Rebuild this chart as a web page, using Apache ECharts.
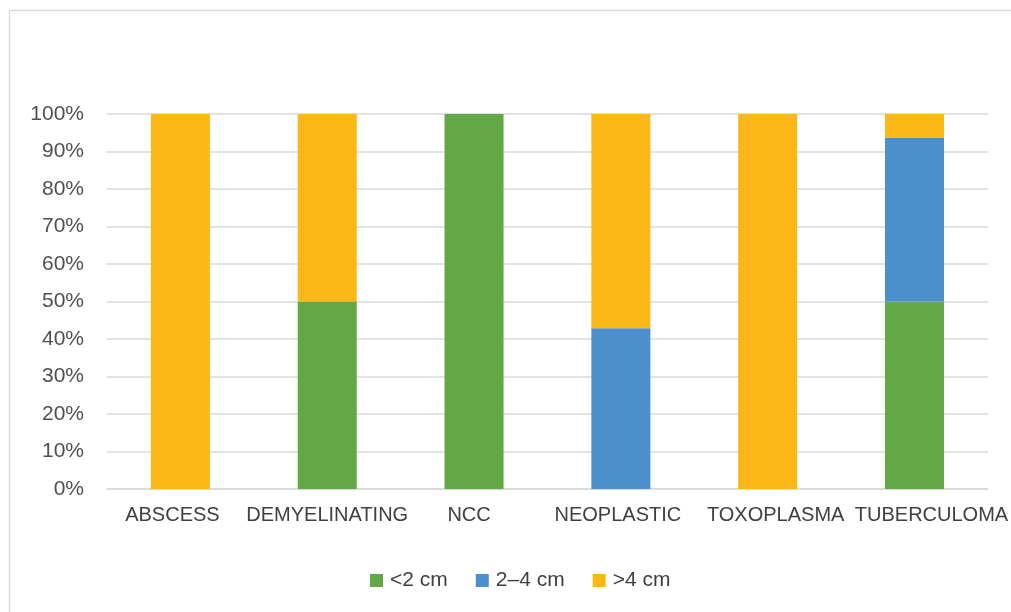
<!DOCTYPE html>
<html>
<head>
<meta charset="utf-8">
<script src="https://cdn.jsdelivr.net/npm/echarts@6/dist/echarts.min.js"></script>
<style>
html,body{margin:0;padding:0;background:#fff;}
#chart{width:1011px;height:612px;}
</style>
</head>
<body>
<div id="chart"></div>
<script>
// Data
var categories = ['ABSCESS', 'DEMYELINATING', 'NCC', 'NEOPLASTIC', 'TOXOPLASMA', 'TUBERCULOMA'];
var seriesNames = ['<2 cm', '2\u20134 cm', '>4 cm'];
var lessThan2 = [0, 50, 100, 0, 0, 50];
var between2and4 = [0, 0, 0, 42.86, 0, 43.75];
var greaterThan4 = [100, 50, 0, 57.14, 100, 6.25];
var yTicks = ['0%','10%','20%','30%','40%','50%','60%','70%','80%','90%','100%'];

// Layout-only: small horizontal label shifts (px) to mimic the source rendering
var labelShift = [-8, 0, -5, -3, 8, 17];

var colors = ['#62A845', '#4B8FCD', '#FAB716'];

var chart = echarts.init(document.getElementById('chart'));
var xData = categories.map(function (c, i) {
  var s = labelShift[i];
  var pad = s >= 0 ? [0, 0, 0, 2 * s] : [0, -2 * s, 0, 0];
  return { value: c, textStyle: { padding: pad } };
});

function mk(name, data, color) {
  return {
    name: name,
    type: 'bar',
    stack: 'total',
    barWidth: 59,
    data: data,
    itemStyle: { color: color },
    emphasis: { disabled: true }
  };
}

chart.setOption({
  animation: false,
  backgroundColor: '#ffffff',
  graphic: [{
    type: 'rect',
    shape: { x: 9.5, y: 10.5, width: 1100, height: 700 },
    style: { fill: 'none', stroke: '#D9D9D9', lineWidth: 1.5 },
    silent: true, z: -1
  }],
  grid: { left: 107, right: 21, top: 114, bottom: 123, containLabel: false },
  legend: {
    data: seriesNames,
    left: 365,
    top: 565,
    itemWidth: 13,
    itemHeight: 13,
    itemGap: 28,
    icon: 'rect',
    textStyle: { fontFamily: 'Liberation Sans, Arial, sans-serif', fontSize: 21, color: '#404040', padding: [0, 0, 0, 2] }
  },
  xAxis: {
    type: 'category',
    data: xData,
    axisLine: { show: true, lineStyle: { color: '#D9D9D9', width: 1.5 } },
    axisTick: { show: false },
    axisLabel: {
      interval: 0,
      margin: 16,
      fontFamily: 'Liberation Sans, Arial, sans-serif',
      fontSize: 20,
      color: '#404040'
    }
  },
  yAxis: {
    type: 'value',
    min: 0,
    max: 100,
    interval: 10,
    axisLine: { show: false },
    axisTick: { show: false },
    splitLine: { lineStyle: { color: '#D9D9D9', width: 1.5 } },
    axisLabel: {
      margin: 23,
      fontFamily: 'Liberation Sans, Arial, sans-serif',
      fontSize: 21,
      color: '#505050',
      formatter: function (v) { return yTicks[Math.round(v / 10)]; }
    }
  },
  series: [
    mk(seriesNames[0], lessThan2, colors[0]),
    mk(seriesNames[1], between2and4, colors[1]),
    mk(seriesNames[2], greaterThan4, colors[2])
  ]
});
</script>
</body>
</html>
